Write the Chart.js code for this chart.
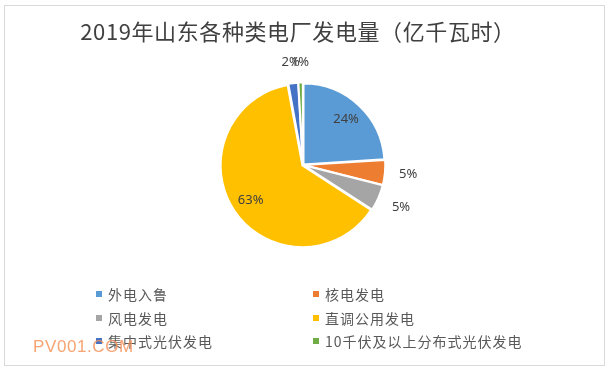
<!DOCTYPE html>
<html>
<head>
<meta charset="utf-8">
<script src="https://cdn.jsdelivr.net/npm/chart.js@4/dist/chart.umd.min.js"></script>
<style>
  body { margin: 0; background: #fff; }
  #wrap { position: relative; width: 608px; height: 372px; background: #fff; overflow: hidden; }
  #chart { position: absolute; left: 0; top: 0; }
  .frame { position: absolute; left: 4px; top: 5px; width: 599px; height: 359px; border: 1px solid #D9D9D9; pointer-events: none; }
  .title { position: absolute; left: 0; top: 15px; width: 596px; text-align: center; font: 22px/30px "Noto Sans CJK SC", sans-serif; letter-spacing: 0.6px; color: #404040; }
  .item { position: absolute; height: 20px; line-height: 20px; font: 14px/20px "Noto Sans CJK SC", sans-serif; letter-spacing: 1px; color: #595959; white-space: nowrap; }
  .item i { position: absolute; left: 0; top: 7px; width: 6px; height: 6px; }
  .item span { position: absolute; left: 12px; top: 0; }
  .mark { position: absolute; left: 33px; top: 336px; font: 17px/22px "Liberation Sans", sans-serif; letter-spacing: 0.6px; color: #F7935A; opacity: 0.85; }
</style>
</head>
<body>
<div id="wrap">
  <canvas id="chart" width="608" height="372"></canvas>
  <div class="title">2019年山东各种类电厂发电量（亿千瓦时）</div>
  <div id="legend"></div>
  <div class="mark">PV001.COM</div>
  <div class="frame"></div>
</div>
<script>
// datos del gráfico (亿千瓦时)
const categories = ['外电入鲁', '核电发电', '风电发电', '直调公用发电', '集中式光伏发电', '10千伏及以上分布式光伏发电'];
const generation = [1170, 240, 255, 3070, 95, 45];

const sliceColors = ['#5B9BD5', '#ED7D31', '#A5A5A5', '#FFC000', '#4472C4', '#70AD47'];

// leyenda en dos columnas, como en Excel
const legendCols = [96, 313];
const legendRows = [284, 308, 331];
const legendBox = document.getElementById('legend');
categories.forEach((name, i) => {
    const item = document.createElement('div');
    item.className = 'item';
    item.style.left = legendCols[i % 2] + 'px';
    item.style.top = legendRows[Math.floor(i / 2)] + 'px';
    item.innerHTML = '<i style="background:' + sliceColors[i] + '"></i><span>' + name + '</span>';
    legendBox.appendChild(item);
});

// etiquetas de porcentaje: dentro para los sectores grandes, fuera para los pequeños
const pctLabels = {
    id: 'pctLabels',
    afterDatasetsDraw(chart) {
        const ctx = chart.ctx;
        const meta = chart.getDatasetMeta(0);
        const total = generation.reduce((a, b) => a + b, 0);
        ctx.save();
        ctx.font = '13px "Noto Sans", sans-serif';
        ctx.fillStyle = '#404040';
        ctx.textAlign = 'center';
        ctx.textBaseline = 'middle';
        meta.data.forEach((arc, i) => {
            const p = arc.getProps(['x', 'y', 'startAngle', 'endAngle', 'outerRadius'], true);
            const mid = (p.startAngle + p.endAngle) / 2;
            const dx = Math.cos(mid), dy = Math.sin(mid);
            const pct = Math.round(generation[i] / total * 100);
            const text = pct + '%';
            const off = arc.options.offset || 0;
            let r;
            if (pct >= 10) {
                r = p.outerRadius * 0.74 + off;
            } else {
                const w = ctx.measureText(text).width;
                r = p.outerRadius + off + 12 + Math.abs(dx) * w / 2 + Math.abs(dy) * 6.5;
            }
            ctx.fillText(text, p.x + dx * r, p.y + dy * r);
        });
        ctx.restore();
    }
};

const ctx = document.getElementById('chart').getContext('2d');
const myChart = new Chart(ctx, {
    type: 'pie',
    data: {
        labels: categories,
        datasets: [{
            data: generation,
            backgroundColor: sliceColors,
            borderColor: '#ffffff',
            borderWidth: 2,
            offset: 3
        }]
    },
    options: {
        responsive: false,
        animation: false,
        radius: 81,
        layout: { padding: { left: 0, right: 2, top: 60, bottom: 102 } },
        plugins: {
            legend: { display: false },
            title: { display: false },
            tooltip: { enabled: false }
        }
    },
    plugins: [pctLabels]
});
</script>
</body>
</html>
